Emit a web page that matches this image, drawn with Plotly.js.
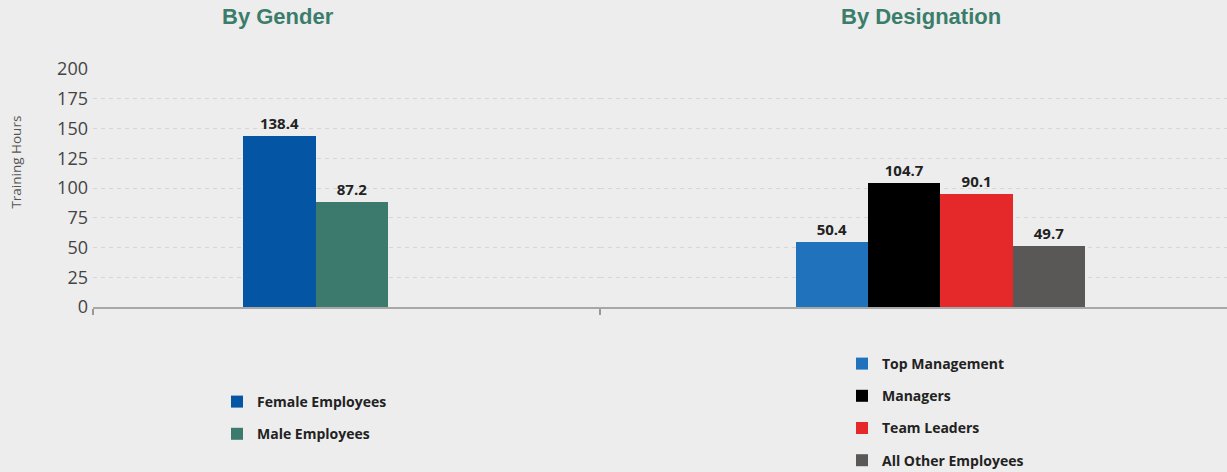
<!DOCTYPE html>
<html>
<head>
<meta charset="utf-8">
<script src="https://cdn.plot.ly/plotly-3.0.1.min.js"></script>
<style>html,body{margin:0;padding:0;background:#ededed;}#chart{width:1227px;height:472px;}</style>
</head>
<body>
<div id="chart"></div>
<script>
// ---- data ----
const genderCategories = ['Female Employees', 'Male Employees'];
const genderValues = [143.6, 88.1];
const genderLabels = ['138.4', '87.2'];
const genderColors = ['#0455a4', '#3b7a6c'];

const designationCategories = ['Top Management', 'Managers', 'Team Leaders', 'All Other Employees'];
const designationValues = [54.4, 104.1, 94.8, 51.1];
const designationLabels = ['50.4', '104.7', '90.1', '49.7'];
const designationColors = ['#1f72bb', '#000000', '#e52829', '#5a5856'];

const yTickValues = [0, 25, 50, 75, 100, 125, 150, 175, 200];
const panelTitles = ['By Gender', 'By Designation'];
const yAxisTitle = 'Training Hours';

const labelFont = {family: 'Open Sans', size: 15, color: '#222222', weight: 700};

const traces = [];
genderCategories.forEach((name, i) => {
  traces.push({
    type: 'bar', name: name, x: [0], y: [genderValues[i]],
    text: [genderLabels[i]], textposition: 'outside', cliponaxis: false,
    constraintext: 'none', textfont: labelFont,
    marker: {color: genderColors[i]}, xaxis: 'x', yaxis: 'y',
    legend: 'legend', legendgroup: 'g' + i, hoverinfo: 'name+y'
  });
});
designationCategories.forEach((name, i) => {
  traces.push({
    type: 'bar', name: name, x: [0], y: [designationValues[i]],
    text: [designationLabels[i]], textposition: 'outside', cliponaxis: false,
    constraintext: 'none', textfont: labelFont,
    marker: {color: designationColors[i]}, xaxis: 'x2', yaxis: 'y2',
    legend: 'legend2', legendgroup: 'd' + i, hoverinfo: 'name+y'
  });
});

const leftRange = [-1.536, 1.961];
const rightRange = [-1.176, 0.990];
const split = 507 / 1134;

const legendFont = {family: 'Open Sans', size: 14, color: '#222222', weight: 700};
const gridStyle = {showgrid: true, gridcolor: '#d6d6d6', griddash: '4px,4px', gridwidth: 1, zeroline: false};

const layout = {
  width: 1227, height: 472,
  paper_bgcolor: '#ededed', plot_bgcolor: '#ededed',
  margin: {l: 93, r: 0, t: 69, b: 165.3, autoexpand: false},
  barmode: 'group', bargap: 0, bargroupgap: 0,
  showlegend: true,
  xaxis: {domain: [0, split], range: leftRange, anchor: 'y', showgrid: false, zeroline: false,
          showline: true, linecolor: '#a8a8a8', linewidth: 1.5,
          tickmode: 'array', tickvals: [leftRange[0]], ticktext: [''], ticks: 'outside',
          ticklen: 6, tickcolor: '#999999', tickwidth: 1.5, fixedrange: true},
  xaxis2: {domain: [split, 1], range: rightRange, anchor: 'y2', showgrid: false, zeroline: false,
          showline: true, linecolor: '#a8a8a8', linewidth: 1.5,
          tickmode: 'array', tickvals: [rightRange[0]], ticktext: [''], ticks: 'outside',
          ticklen: 6, tickcolor: '#999999', tickwidth: 1.5, fixedrange: true},
  yaxis: Object.assign({range: [0, 200], anchor: 'x', tickmode: 'array', tickvals: yTickValues,
          ticks: '', ticklabelstandoff: 4,
          tickfont: {family: 'Open Sans', size: 18, color: '#444444', weight: 400}}, gridStyle),
  yaxis2: Object.assign({range: [0, 200], anchor: 'x2', matches: 'y', tickmode: 'array',
          tickvals: yTickValues, showticklabels: false, ticks: ''}, gridStyle),
  legend: {xref: 'container', yref: 'container', x: 217 / 1227, y: 1 - 386 / 472,
           xanchor: 'left', yanchor: 'top', bgcolor: 'rgba(0,0,0,0)', font: legendFont,
           tracegroupgap: 11, traceorder: 'grouped', itemclick: false},
  legend2: {xref: 'container', yref: 'container', x: 842 / 1227, y: 1 - 348 / 472,
           xanchor: 'left', yanchor: 'top', bgcolor: 'rgba(0,0,0,0)', font: legendFont,
           tracegroupgap: 11, traceorder: 'grouped', itemclick: false},
  annotations: [
    {text: panelTitles[0], xref: 'paper', yref: 'paper', x: (278 - 93) / 1134, y: 1 + (69 - 17) / 237.7,
     xanchor: 'center', yanchor: 'middle', showarrow: false,
     font: {family: 'Liberation Sans', size: 22, color: '#3b7d6b', weight: 700}},
    {text: panelTitles[1], xref: 'paper', yref: 'paper', x: (920.5 - 93) / 1134, y: 1 + (69 - 17) / 237.7,
     xanchor: 'center', yanchor: 'middle', showarrow: false,
     font: {family: 'Liberation Sans', size: 22, color: '#3b7d6b', weight: 700}},
    {text: yAxisTitle, xref: 'paper', yref: 'paper', x: (16 - 93) / 1134, y: (306.7 - 162.5) / 237.7,
     xanchor: 'center', yanchor: 'middle', showarrow: false, textangle: -90,
     font: {family: 'Open Sans', size: 13.5, color: '#555555'}}
  ]
};

Plotly.newPlot('chart', traces, layout, {displayModeBar: false, staticPlot: true});
</script>
</body>
</html>
